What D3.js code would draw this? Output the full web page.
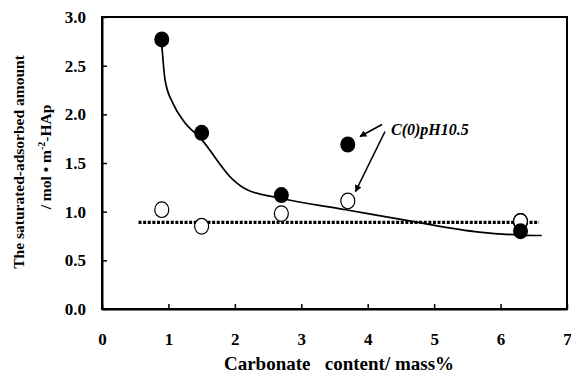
<!DOCTYPE html>
<html><head><meta charset="utf-8">
<script src="https://cdn.jsdelivr.net/npm/d3@7"></script>
<style>body{margin:0;background:#fff}svg{display:block}</style>
</head><body><svg id="c" width="571" height="378"></svg>
<script>
const carbonate = [0.9, 1.5, 2.7, 3.7, 6.3];
const filledValues = [2.77, 1.81, 1.17, 1.69, 0.80];
const openValues = [1.02, 0.85, 0.98, 1.11, 0.90];
const trendX = [0.9, 0.95, 1.07, 1.22, 1.5, 1.97, 2.17, 2.67, 3.67, 4.67, 5.68, 6.28, 6.62];
const trendY = [2.72, 2.35, 2.11, 1.94, 1.74, 1.33, 1.23, 1.14, 1.02, 0.90, 0.79, 0.76, 0.755];
const dottedX = [0.55, 6.58];
const dottedY = [0.89, 0.89];
const xTicks = [0, 1, 2, 3, 4, 5, 6, 7];
const yTicks = [0, 0.5, 1.0, 1.5, 2.0, 2.5, 3.0];

const FONT = "'Liberation Serif'";
const svg = d3.select("#c");
const m = {l:102, r:567, t:17, b:309};
const x = d3.scaleLinear().domain([0,7]).range([m.l, m.r]);
const y = d3.scaleLinear().domain([0,3]).range([m.b, m.t]);

svg.append("rect").attr("x",m.l).attr("y",m.t).attr("width",m.r-m.l).attr("height",m.b-m.t)
  .attr("fill","none").attr("stroke","#000").attr("stroke-width",2);

const gx = svg.append("g").attr("transform",`translate(0,${m.b})`)
  .call(d3.axisBottom(x).tickValues(xTicks).tickSizeInner(-5).tickSizeOuter(0).tickPadding(24).tickFormat(d3.format("d")));
const gy = svg.append("g").attr("transform",`translate(${m.l},0)`)
  .call(d3.axisLeft(y).tickValues(yTicks).tickSizeInner(-5).tickSizeOuter(0).tickPadding(16).tickFormat(d3.format(".1f")));
[gx,gy].forEach(g=>{
  g.attr("font-family",null).attr("font-size",null);
  g.select(".domain").attr("stroke-width",2);
  g.selectAll(".tick line").attr("stroke-width",1.5);
  g.selectAll("text").attr("font-size",17).style("font-family",FONT).style("font-weight","bold").attr("fill","#000");
});
gx.selectAll(".tick text").attr("dy","0.71em");

svg.append("path").datum(dottedX.map((d,i)=>[d,dottedY[i]]))
  .attr("d", d3.line().x(d=>x(d[0])).y(d=>y(d[1])))
  .attr("stroke","#000").attr("stroke-width",3.2).attr("stroke-dasharray","3,1.6").attr("fill","none");

svg.append("path").datum(trendX.map((d,i)=>[d,trendY[i]]))
  .attr("d", d3.line().x(d=>x(d[0])).y(d=>y(d[1])).curve(d3.curveMonotoneX))
  .attr("stroke","#000").attr("stroke-width",1.7).attr("fill","none");

svg.selectAll(".open").data(carbonate.map((d,i)=>[d,openValues[i]])).join("ellipse")
  .attr("cx",d=>x(d[0])).attr("cy",d=>y(d[1])).attr("rx",7).attr("ry",7.8)
  .attr("fill","#fff").attr("stroke","#000").attr("stroke-width",1.2);
svg.selectAll(".fill").data(carbonate.map((d,i)=>[d,filledValues[i]])).join("ellipse")
  .attr("cx",d=>x(d[0])).attr("cy",d=>y(d[1])).attr("rx",7.5).attr("ry",8)
  .attr("fill","#000");
svg.append("ellipse").attr("cx",x(carbonate[4])).attr("cy",y(openValues[4])).attr("rx",7).attr("ry",7.8)
  .attr("fill","none").attr("stroke","#000").attr("stroke-width",1.2);

const defs = svg.append("defs");
defs.append("marker").attr("id","ah").attr("viewBox","0 0 10 10").attr("refX",9).attr("refY",5)
  .attr("markerWidth",7).attr("markerHeight",7).attr("markerUnits","userSpaceOnUse").attr("orient","auto")
  .append("path").attr("d","M0,0 L10,5 L0,10 Z").attr("fill","#000");
svg.append("line").attr("x1",382).attr("y1",124.5).attr("x2",360).attr("y2",136.5)
  .attr("stroke","#000").attr("stroke-width",1.6).attr("marker-end","url(#ah)");
svg.append("line").attr("x1",385).attr("y1",131.5).attr("x2",355.5).attr("y2",191.5)
  .attr("stroke","#000").attr("stroke-width",1.6).attr("marker-end","url(#ah)");
svg.append("text").attr("x",391).attr("y",135).attr("font-size",16).style("font-style","italic").text("C(0)pH10.5");

svg.append("text").attr("x",339).attr("y",370).attr("text-anchor","middle").attr("font-size",19)
  .style("white-space","pre").text("Carbonate   content/ mass%");
svg.append("text").attr("transform","translate(24,162) rotate(-90)").attr("text-anchor","middle").attr("font-size",15.5)
  .text("The saturated-adsorbed amount");
const t2 = svg.append("text").attr("transform","translate(51,157) rotate(-90)").attr("text-anchor","middle").attr("font-size",15.5);
t2.append("tspan").text("/ mol \u2022 m");
t2.append("tspan").attr("font-size",10).attr("dy",-6).text("-2");
t2.append("tspan").attr("dy",6).text("-HAp");
svg.selectAll("text").style("font-family",FONT).style("font-weight","bold");
</script></body></html>
